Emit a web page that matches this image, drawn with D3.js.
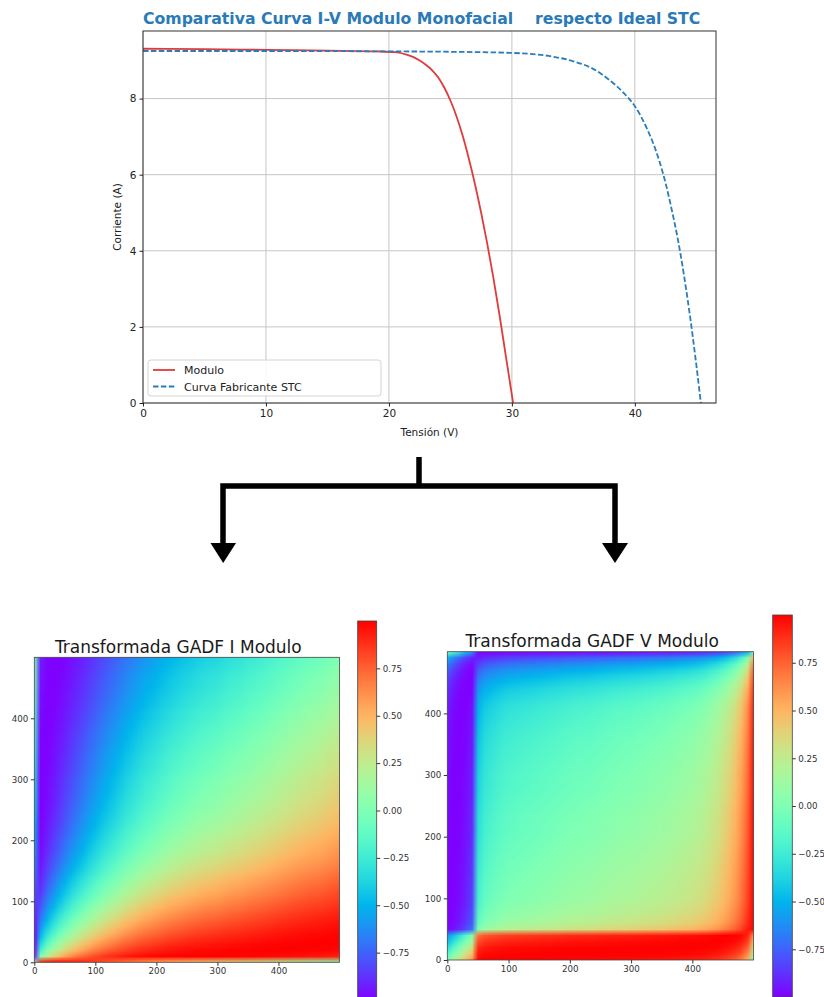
<!DOCTYPE html>
<html>
<head>
<meta charset="utf-8">
<script src="https://cdn.jsdelivr.net/npm/d3@7"></script>
<style>
  body { margin: 0; background: #fff; }
  svg { display: block; font-family: "DejaVu Sans", sans-serif; }
</style>
</head>
<body>
<svg id="fig" width="824" height="997"></svg>
<script>
// I-V curves
const moduloV = [0, 5, 10, 15, 19, 20.5, 21.5, 22, 22.5, 23, 23.5, 24, 24.5, 25, 25.5, 26, 26.5, 27, 27.5, 28, 28.5, 29, 29.5, 30.1];
const moduloI = [9.31, 9.30, 9.28, 9.26, 9.24, 9.22, 9.15, 9.09, 9.0, 8.89, 8.75, 8.56, 8.29, 7.95, 7.53, 7.02, 6.42, 5.75, 5.0, 4.18, 3.28, 2.3, 1.25, 0];
const stcV = [0, 10, 20, 25, 30, 33, 35, 36.5, 38, 39, 40, 40.5, 41, 41.5, 42, 42.5, 43, 43.5, 44, 44.5, 45, 45.37];
const stcI = [9.25, 9.25, 9.24, 9.23, 9.2, 9.12, 8.98, 8.8, 8.47, 8.18, 7.8, 7.53, 7.2, 6.82, 6.35, 5.78, 5.08, 4.3, 3.35, 2.25, 1.0, 0];
const ivXTicks = [0, 10, 20, 30, 40];
const ivYTicks = [0, 2, 4, 6, 8];

// sampled series behind the two GADF images (every 10th of 500 samples), estimated from the images
const gadfStep = 10;
const seriesI = [0.00, 2.80, 3.78, 4.43, 4.98, 5.45, 5.86, 6.21, 6.51, 6.81,
  7.05, 7.29, 7.48, 7.66, 7.83, 8.00, 8.12, 8.25, 8.36, 8.44,
  8.52, 8.60, 8.67, 8.73, 8.78, 8.83, 8.87, 8.91, 8.94, 8.97,
  8.99, 9.03, 9.06, 9.08, 9.10, 9.13, 9.15, 9.17, 9.19, 9.21,
  9.23, 9.24, 9.26, 9.27, 9.28, 9.29, 9.295, 9.30, 9.306, 9.309, 9.31];
const seriesV = [0, 0.22, 0.77, 1.71, 2.99, 12.81, 14.31, 14.91, 15.36, 15.81,
  16.11, 16.26, 16.42, 16.56, 16.71, 16.86, 17.01, 17.16, 17.31, 17.46,
  17.61, 17.76, 17.83, 17.90, 18.05, 18.20, 18.35, 18.49, 18.64, 18.71,
  18.79, 18.93, 19.08, 19.22, 19.36, 19.51, 19.65, 19.87, 20.08, 20.29,
  20.50, 20.78, 21.20, 21.74, 22.28, 23.06, 23.93, 24.98, 26.36, 28.11, 30.10];
const gadfTicks = [0, 100, 200, 300, 400];
const cbarTicks = [-0.75, -0.5, -0.25, 0, 0.25, 0.5, 0.75];

const svg = d3.select("#fig");
const FONT = "DejaVu Sans";

// ---------- top chart
const iv = { left: 143, right: 716, top: 31, bottom: 403 };
const xIV = d3.scaleLinear().domain([0, 46.6]).range([iv.left, iv.right]);
const yIV = d3.scaleLinear().domain([0, 9.776]).range([iv.bottom, iv.top]);
const topG = svg.append("g");

// grid
topG.append("g").selectAll("line").data(ivXTicks).join("line")
  .attr("x1", d => xIV(d)).attr("x2", d => xIV(d))
  .attr("y1", iv.top).attr("y2", iv.bottom)
  .attr("stroke", "#c6c6c6").attr("stroke-width", 1);
topG.append("g").selectAll("line").data(ivYTicks).join("line")
  .attr("x1", iv.left).attr("x2", iv.right)
  .attr("y1", d => yIV(d)).attr("y2", d => yIV(d))
  .attr("stroke", "#c6c6c6").attr("stroke-width", 1);

const ivLine = d3.line().x(d => xIV(d[0])).y(d => yIV(d[1])).curve(d3.curveMonotoneX);
topG.append("path").datum(d3.zip(moduloV, moduloI))
  .attr("d", ivLine).attr("fill", "none")
  .attr("stroke", "#e03b3b").attr("stroke-width", 1.8);
topG.append("path").datum(d3.zip(stcV, stcI))
  .attr("d", ivLine).attr("fill", "none")
  .attr("stroke", "#2a7dbb").attr("stroke-width", 1.8)
  .attr("stroke-dasharray", "5.5,2.4");

// frame
topG.append("rect")
  .attr("x", iv.left).attr("y", iv.top)
  .attr("width", iv.right - iv.left).attr("height", iv.bottom - iv.top)
  .attr("fill", "none").attr("stroke", "#333").attr("stroke-width", 1);

// axes
const axX = topG.append("g").attr("transform", `translate(0,${iv.bottom})`)
  .call(d3.axisBottom(xIV).tickValues(ivXTicks).tickSize(3.5).tickPadding(3));
const axY = topG.append("g").attr("transform", `translate(${iv.left},0)`)
  .call(d3.axisLeft(yIV).tickValues(ivYTicks).tickSize(3.5).tickPadding(3));
[axX, axY].forEach(a => {
  a.select(".domain").remove();
  a.attr("font-family", FONT).attr("font-size", 10.5).attr("color", "#222");
});

topG.append("text").attr("x", (iv.left + iv.right) / 2).attr("y", 436)
  .attr("text-anchor", "middle").attr("font-size", 10.5).attr("fill", "#222")
  .text("Tensión (V)");
topG.append("text").attr("transform", `translate(121,${(iv.top + iv.bottom) / 2}) rotate(-90)`)
  .attr("text-anchor", "middle").attr("font-size", 10.5).attr("fill", "#222")
  .text("Corriente (A)");
topG.append("text").attr("x", iv.left).attr("y", 24)
  .attr("font-size", 15.7).attr("font-weight", "bold").attr("fill", "#2a7ab8")
  .style("white-space", "pre")
  .text("Comparativa Curva I-V Modulo Monofacial    respecto Ideal STC");

// legend
const leg = topG.append("g");
leg.append("rect").attr("x", 148).attr("y", 360).attr("width", 233).attr("height", 36)
  .attr("rx", 3).attr("fill", "#fff").attr("fill-opacity", 0.85)
  .attr("stroke", "#d4d4d4").attr("stroke-width", 1);
const legItems = [
  { label: "Modulo", color: "#e03b3b", dash: null },
  { label: "Curva Fabricante STC", color: "#2a7dbb", dash: "5.5,2.4" }
];
legItems.forEach((it, k) => {
  const yy = 370 + k * 16.5;
  leg.append("line").attr("x1", 153).attr("x2", 175).attr("y1", yy).attr("y2", yy)
    .attr("stroke", it.color).attr("stroke-width", 1.8).attr("stroke-dasharray", it.dash);
  leg.append("text").attr("x", 184).attr("y", yy + 4).attr("font-size", 11).attr("fill", "#222")
    .text(it.label);
});

// ---------- connector arrow
const arrow = svg.append("g");
arrow.append("path").attr("d", "M419,457V486M223,546V486H615V546")
  .attr("fill", "none").attr("stroke", "#000").attr("stroke-width", 5.5)
  .attr("stroke-linejoin", "miter");
arrow.append("path").attr("d", "M210.5,543H236L223.2,563Z M602,543H628L615,563Z").attr("fill", "#000");

// ---------- GADF
function gadf(series) {
  const lo = d3.min(series), hi = d3.max(series);
  const phi = series.map(v => Math.acos(Math.max(-1, Math.min(1, 2 * (v - lo) / (hi - lo) - 1))));
  return phi.map(a => phi.map(b => Math.sin(a - b)));
}

// matplotlib "rainbow"
function rainbow(t) {
  const r = Math.min(1, Math.abs(2 * t - 0.5));
  const g = Math.sin(Math.PI * t);
  const b = Math.cos(Math.PI * t / 2);
  return `rgb(${Math.round(r * 255)},${Math.round(g * 255)},${Math.round(Math.max(0, b) * 255)})`;
}

const defs = svg.append("defs");
const grad = defs.append("linearGradient").attr("id", "rb")
  .attr("x1", 0).attr("y1", 0).attr("x2", 0).attr("y2", 1);
d3.range(0, 101).forEach(s => {
  grad.append("stop").attr("offset", s / 100).attr("stop-color", rainbow(1 - s / 100));
});

function drawGadf(series, o) {
  const n = series.length;
  const m = gadf(series);
  const ext = d3.extent(m.flat());
  const cv = document.createElement("canvas");
  cv.width = n; cv.height = n;
  const ctx = cv.getContext("2d");
  m.forEach((row, i) => row.forEach((v, j) => {
    ctx.fillStyle = rainbow((v - ext[0]) / (ext[1] - ext[0]));
    ctx.fillRect(j, n - 1 - i, 1, 1);
  }));

  const x = d3.scaleLinear().domain([0, 500]).range([o.x0, o.x1]);
  const y = d3.scaleLinear().domain([0, 500]).range([o.y0, o.y1]);
  const half = gadfStep / 2, last = (n - 1) * gadfStep;
  const g = svg.append("g");
  defs.append("clipPath").attr("id", o.id + "-clip").append("rect")
    .attr("x", o.x0).attr("y", o.y1).attr("width", o.x1 - o.x0).attr("height", o.y0 - o.y1);
  g.append("image").attr("href", cv.toDataURL())
    .attr("x", x(-half)).attr("y", y(last + half))
    .attr("width", x(last + half) - x(-half)).attr("height", y(-half) - y(last + half))
    .attr("preserveAspectRatio", "none")
    .attr("clip-path", `url(#${o.id}-clip)`);
  g.append("rect").attr("x", o.x0).attr("y", o.y1)
    .attr("width", o.x1 - o.x0).attr("height", o.y0 - o.y1)
    .attr("fill", "none").attr("stroke", "#444").attr("stroke-width", 0.8);

  const ax = g.append("g").attr("transform", `translate(0,${o.y0})`)
    .call(d3.axisBottom(x).tickValues(gadfTicks).tickSize(3.5).tickPadding(2.5));
  const ay = g.append("g").attr("transform", `translate(${o.x0},0)`)
    .call(d3.axisLeft(y).tickValues(gadfTicks).tickSize(3.5).tickPadding(2.5));
  [ax, ay].forEach(a => {
    a.select(".domain").remove();
    a.attr("font-family", FONT).attr("font-size", 8.7).attr("color", "#333");
  });

  g.append("text").attr("x", o.titleX).attr("y", o.titleY)
    .attr("text-anchor", "middle").attr("font-size", 17).attr("fill", "#1a1a1a")
    .text(o.title);

  // colorbar
  const yc = d3.scaleLinear().domain(ext).range([o.cbBottom, o.cbTop]);
  g.append("rect").attr("x", o.cbX).attr("y", o.cbTop)
    .attr("width", o.cbW).attr("height", o.cbBottom - o.cbTop)
    .attr("fill", "url(#rb)").attr("stroke", "#444").attr("stroke-width", 0.8);
  const ac = g.append("g").attr("transform", `translate(${o.cbX + o.cbW},0)`)
    .call(d3.axisRight(yc).tickValues(cbarTicks).tickFormat(d3.format(".2f")).tickSize(3.5).tickPadding(2.5));
  ac.select(".domain").remove();
  ac.attr("font-family", FONT).attr("font-size", 8.7).attr("color", "#333");
}

drawGadf(seriesI, {
  id: "gi", x0: 34.3, x1: 339.5, y0: 962.3, y1: 657.3,
  title: "Transformada GADF I Modulo", titleX: 178.3, titleY: 653,
  cbX: 357.7, cbW: 19, cbTop: 621, cbBottom: 1000
});
drawGadf(seriesV, {
  id: "gv", x0: 447.3, x1: 753.6, y0: 960, y1: 651.7,
  title: "Transformada GADF V Modulo", titleX: 592.2, titleY: 646.7,
  cbX: 772.7, cbW: 19.6, cbTop: 615, cbBottom: 997
});
</script>
</body>
</html>
